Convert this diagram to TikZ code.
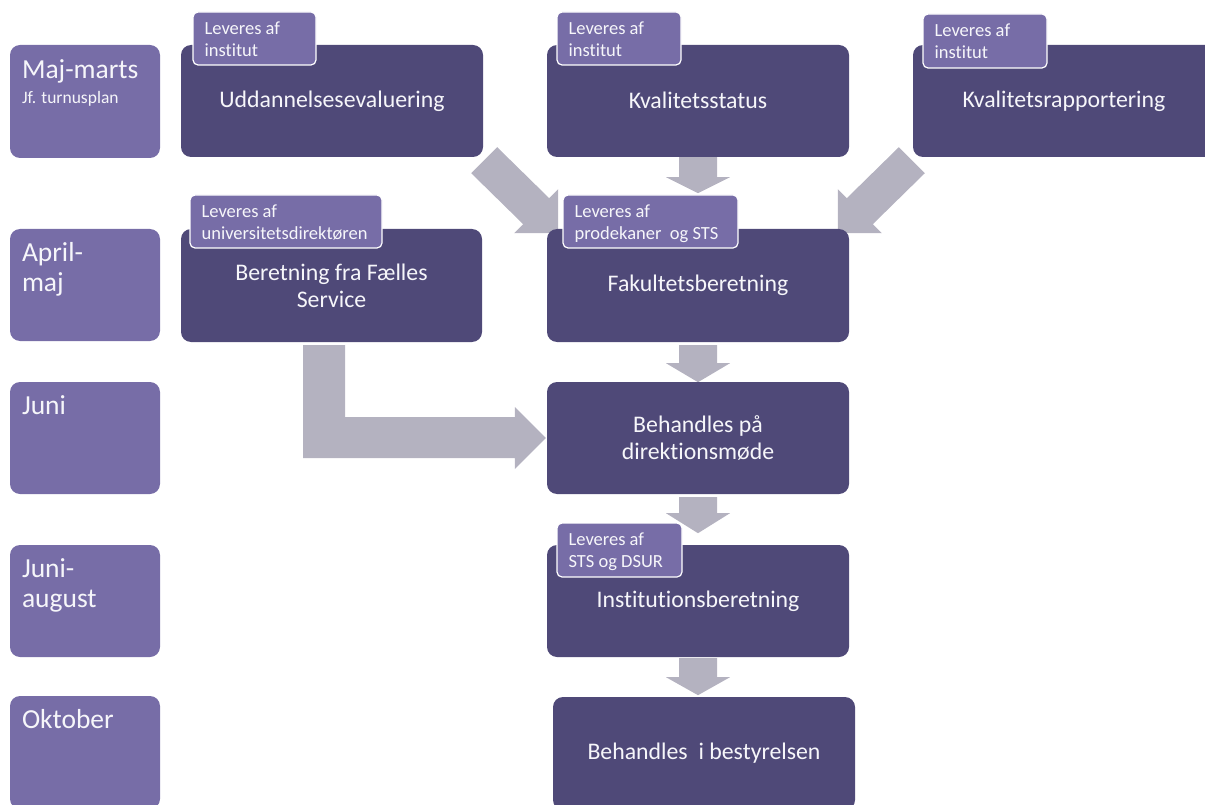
\documentclass[tikz,border=0pt]{standalone}
\usepackage{fontspec}
\setmainfont{Carlito}[Ligatures=NoCommon]
\usetikzlibrary{calc,backgrounds}
\definecolor{darkbox}{RGB}{79,73,120}
\definecolor{lightbox}{RGB}{119,109,167}
\definecolor{arrowc}{RGB}{180,178,192}
\definecolor{txt}{RGB}{246,246,250}
\begin{document}
\begin{tikzpicture}[x=1pt,y=-1pt,
  mainbox/.style={fill=darkbox, rounded corners=10pt, minimum width=302pt, minimum height=112pt, inner sep=0pt, text=txt, align=center, font=\fontsize{23.8}{27}\selectfont},
  monthbox/.style={fill=lightbox, rounded corners=10pt, minimum width=150pt, minimum height=112pt, inner sep=0pt},
  monthtext/.style={anchor=north west, inner sep=0pt, text=txt, align=left, font=\fontsize{27.5}{30}\selectfont},
  tagbox/.style={fill=lightbox, draw=white, line width=1.2pt, rounded corners=5pt, minimum height=53pt, inner sep=0pt},
  tagtext/.style={anchor=north west, inner sep=0pt, text=txt, align=left, font=\fontsize{18.5}{22}\selectfont},
  blockarrow/.style={fill=arrowc, draw=none}
]
\useasboundingbox (0,0) rectangle (1205,805);
\clip (0,0) rectangle (1205,805);

% month column
\node[monthbox, minimum height=113pt] (m1) at (85,101.5) {};
\node[monthbox] (m2) at (85,285) {};
\node[monthbox] (m3) at (85,438) {};
\node[monthbox] (m4) at (85,601) {};
\node[monthbox, minimum height=113pt] (m5) at (85,752.5) {};
\node[monthtext] at ($(m1.north west)+(12,15)$) {Maj-marts};
\node[monthtext, font=\fontsize{17.5}{20}\selectfont] at ($(m1.north west)+(12,46)$) {Jf. turnusplan};
\node[monthtext] at ($(m2.north west)+(12,13.5)$) {April-\\maj};
\node[monthtext] at ($(m3.north west)+(12,14)$) {Juni};
\node[monthtext] at ($(m4.north west)+(12,14)$) {Juni-\\august};
\node[monthtext] at ($(m5.north west)+(12,13.5)$) {Oktober};

% main boxes
\node[mainbox] (ud) at (332,101) {\raisebox{1.5pt}{Uddannelsesevaluering}};
\node[mainbox] (ks) at (698,101) {\raisebox{1.5pt}{Kvalitetsstatus}};
\node[mainbox] (kr) at (1064,101) {\raisebox{1.5pt}{Kvalitetsrapportering}};
\node[mainbox, minimum width=301pt, minimum height=113pt] (bf) at (331.5,285.5) {Beretning fra Fælles\\Service};
\node[mainbox, minimum height=113pt] (fb) at (698,285.5) {Fakultetsberetning};
\node[mainbox] (bd) at (698,438) {Behandles på\\direktionsmøde};
\node[mainbox] (ib) at (698,601) {Institutionsberetning};
\node[mainbox, minimum height=113pt] (bb) at (704,753.5) {Behandles\ \ i bestyrelsen};

% tag boxes
\node[tagbox, minimum width=123pt] (t1) at (254.5,38.5) {};
\node[tagtext] at ($(t1.north west)+(12,10)$) {Leveres af\\institut};
\node[tagbox, minimum width=124pt] (t2) at (619,38.5) {};
\node[tagtext] at ($(t2.north west)+(12,10)$) {Leveres af\\institut};
\node[tagbox, minimum width=124pt, minimum height=54pt] (t3) at (985,41) {};
\node[tagtext] at ($(t3.north west)+(12,10)$) {Leveres af\\institut};
\node[tagbox, minimum width=192pt] (t4) at (286,221.5) {};
\node[tagtext] at ($(t4.north west)+(12,10)$) {Leveres af\\universitetsdirektøren};
\node[tagbox, minimum width=175pt] (t5) at (650.5,221.5) {};
\node[tagtext] at ($(t5.north west)+(12,10)$) {Leveres af\\prodekaner\ \ og STS};
\node[tagbox, minimum width=125pt, minimum height=54pt] (t6) at (619.5,550) {};
\node[tagtext] at ($(t6.north west)+(12,10)$) {Leveres af\\STS og DSUR};

% block arrows
\begin{scope}[on background layer]
\fill[blockarrow, shift={(ks.south)}] (-19,0) -- (-19,20) -- (-32,20) -- (0,36) -- (32,20) -- (19,20) -- (19,0) -- cycle;
\fill[blockarrow, shift={(fb.south)}] (-19,3) -- (-19,21) -- (-32,21) -- (0,40) -- (32,21) -- (19,21) -- (19,3) -- cycle;
\fill[blockarrow, shift={(bd.south)}] (-19,3) -- (-19,19) -- (-32,19) -- (0,39) -- (32,19) -- (19,19) -- (19,3) -- cycle;
\fill[blockarrow, shift={(ib.south)}] (-19,1) -- (-19,20) -- (-32,20) -- (0,38) -- (32,20) -- (19,20) -- (19,1) -- cycle;
\fill[blockarrow, shift={(ud.south east)}] (-12,16) -- (14,-10) -- (66,41) -- (75,32) -- (75,76) -- (31,76) -- (40,67) -- cycle;
\fill[blockarrow, shift={(kr.south west)}] (12,16) -- (-14,-10) -- (-66,41) -- (-75,32) -- (-75,76) -- (-31,76) -- (-40,67) -- cycle;
\fill[blockarrow] ($(bf.south)+(-28.5,3)$) -- ($(bf.south)+(13.5,3)$) |- ($(bd.west)+(-32,-21)$)
  -- ($(bd.west)+(-32,-31)$) -- ($(bd.west)+(-1,0)$) -- ($(bd.west)+(-32,31)$)
  -- ($(bd.west)+(-32,20)$) -| ($(bf.south)+(-28.5,3)$) -- cycle;
\end{scope}
\end{tikzpicture}
\end{document}
